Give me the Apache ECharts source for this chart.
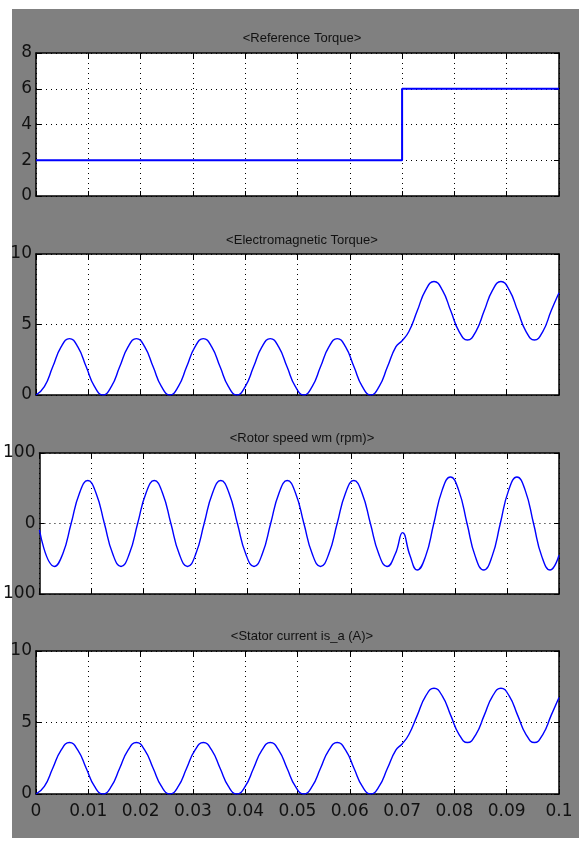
<!DOCTYPE html>
<html>
<head>
<meta charset="utf-8">
<script src="https://cdn.jsdelivr.net/npm/echarts@6/dist/echarts.min.js"></script>
<style>
html, body { margin: 0; padding: 0; background: #fff; }
#chart { width: 579px; height: 841px; }
</style>
</head>
<body>
<div id="chart"></div>
<script>
var titles = ["<Reference Torque>", "<Electromagnetic Torque>", "<Rotor speed wm (rpm)>", "<Stator current is_a (A)>"];
var yMins = [0, 0, -100, 0];
var yMaxs = [8, 10, 100, 10];
var ySteps = [2, 5, 100, 5];
var xMin = 0, xMax = 0.1, xStep = 0.01;

var refTorque = [[0, 2], [0.07, 2], [0.07, 6], [0.1, 6]];

var emTorque = [
  [0, 0], [0.0016, 0.59], [0.0032, 2], [0.0048, 3.41], [0.0064, 4], [0.008, 3.41], [0.0096, 2], [0.0112, 0.59],
  [0.0128, 0], [0.0144, 0.59], [0.016, 2], [0.0176, 3.41], [0.0192, 4], [0.0208, 3.41], [0.0224, 2], [0.024, 0.59],
  [0.0256, 0], [0.0272, 0.59], [0.0288, 2], [0.0304, 3.41], [0.032, 4], [0.0336, 3.41], [0.0352, 2], [0.0368, 0.59],
  [0.0384, 0], [0.04, 0.59], [0.0416, 2], [0.0432, 3.41], [0.0448, 4], [0.0464, 3.41], [0.048, 2], [0.0496, 0.59],
  [0.0512, 0], [0.0528, 0.59], [0.0544, 2], [0.056, 3.41], [0.0576, 4], [0.0592, 3.41], [0.0608, 2], [0.0624, 0.59],
  [0.064, 0], [0.0656, 0.59], [0.0672, 2], [0.0688, 3.41], [0.07, 3.85],
  [0.0713, 4.5], [0.0729, 5.97], [0.0745, 7.44], [0.0761, 8.05], [0.0777, 7.44], [0.0793, 5.97], [0.0809, 4.5],
  [0.0825, 3.9], [0.0841, 4.5], [0.0857, 5.97], [0.0873, 7.44], [0.0889, 8.05], [0.0905, 7.44], [0.0921, 5.97], [0.0937, 4.5],
  [0.0953, 3.9], [0.0969, 4.5], [0.0985, 5.97], [0.1, 7.25]
];

var rotorSpeed = [
  [0, -9], [0.0029, -61], [0.0045, -43], [0.0061, 0], [0.0077, 43], [0.0093, 61], [0.0109, 43], [0.0125, 0],
  [0.0141, -43], [0.0157, -61], [0.0173, -43], [0.0189, 0], [0.0205, 43], [0.0221, 61], [0.0237, 43], [0.0253, 0],
  [0.0269, -43], [0.0285, -61], [0.0301, -43], [0.0317, 0], [0.0333, 43], [0.0349, 61], [0.0365, 43], [0.0381, 0],
  [0.0397, -43], [0.0413, -61], [0.0429, -43], [0.0445, 0], [0.0461, 43], [0.0477, 61], [0.0493, 43], [0.0509, 0],
  [0.0525, -43], [0.0541, -61], [0.0557, -43], [0.0573, 0], [0.0589, 43], [0.0605, 61], [0.0621, 43], [0.0637, 0],
  [0.0653, -43], [0.0669, -61], [0.0685, -43], [0.0699, -13],
  [0.0713, -45], [0.0727, -66], [0.0743, -47], [0.0759, 0], [0.0775, 47], [0.0791, 66], [0.0807, 47], [0.0823, 0],
  [0.0839, -47], [0.0855, -66], [0.0871, -47], [0.0887, 0], [0.0903, 47], [0.0919, 66], [0.0935, 47], [0.0951, 0],
  [0.0967, -47], [0.0983, -66], [0.1, -45]
];

var statorCurrent = [
  [0, 0], [0.0016, 0.53], [0.0032, 1.8], [0.0048, 3.07], [0.0064, 3.6], [0.008, 3.07], [0.0096, 1.8], [0.0112, 0.53],
  [0.0128, 0], [0.0144, 0.53], [0.016, 1.8], [0.0176, 3.07], [0.0192, 3.6], [0.0208, 3.07], [0.0224, 1.8], [0.024, 0.53],
  [0.0256, 0], [0.0272, 0.53], [0.0288, 1.8], [0.0304, 3.07], [0.032, 3.6], [0.0336, 3.07], [0.0352, 1.8], [0.0368, 0.53],
  [0.0384, 0], [0.04, 0.53], [0.0416, 1.8], [0.0432, 3.07], [0.0448, 3.6], [0.0464, 3.07], [0.048, 1.8], [0.0496, 0.53],
  [0.0512, 0], [0.0528, 0.53], [0.0544, 1.8], [0.056, 3.07], [0.0576, 3.6], [0.0592, 3.07], [0.0608, 1.8], [0.0624, 0.53],
  [0.064, 0], [0.0656, 0.53], [0.0672, 1.8], [0.0688, 3.07], [0.07, 3.5],
  [0.0713, 4.16], [0.0729, 5.5], [0.0745, 6.84], [0.0761, 7.4], [0.0777, 6.84], [0.0793, 5.5], [0.0809, 4.16],
  [0.0825, 3.6], [0.0841, 4.16], [0.0857, 5.5], [0.0873, 6.84], [0.0889, 7.4], [0.0905, 6.84], [0.0921, 5.5], [0.0937, 4.16],
  [0.0953, 3.6], [0.0969, 4.16], [0.0985, 5.5], [0.1, 6.75]
];

var seriesData = [refTorque, emTorque, rotorSpeed, statorCurrent];

var font = "'DejaVu Sans', sans-serif";
var titleFont = "'Liberation Sans', sans-serif";
var gridTops = [53, 254, 453, 651];
var gridHeights = [143, 141, 141, 143];
var titleTops = [27, 229, 427, 625];

var grids = [], xAxes = [], yAxes = [], series = [], titleList = [];
var borderLine = { show: true, onZero: false, lineStyle: { color: "#000", width: 1.5 } };
var innerTick = { show: true, inside: true, length: 5, lineStyle: { color: "#000", width: 1 } };
var dotted = { show: true, lineStyle: { color: "#000", width: 1, type: [1, 4] } };

for (var i = 0; i < 4; i++) {
  grids.push({
    left: 36, top: gridTops[i], width: 523, height: gridHeights[i],
    show: true, backgroundColor: "#fff", borderWidth: 0
  });
  titleList.push({
    text: titles[i], left: 297, top: titleTops[i], textAlign: "center",
    textStyle: { fontFamily: titleFont, fontSize: 13, fontWeight: "normal", color: "#111" }
  });
  xAxes.push({
    type: "value", gridIndex: i, position: "bottom", min: xMin, max: xMax, interval: xStep,
    axisLine: borderLine, axisTick: innerTick, splitLine: dotted,
    axisLabel: {
      show: i === 3, margin: 9, color: "#111", fontFamily: font, fontSize: 17,
      formatter: function (v) { return String(Math.round(v * 100) / 100); }
    }
  });
  xAxes.push({
    type: "value", gridIndex: i, position: "top", min: xMin, max: xMax, interval: xStep,
    axisLine: borderLine, axisTick: innerTick, splitLine: { show: false }, axisLabel: { show: false }
  });
  yAxes.push({
    type: "value", gridIndex: i, position: "left", min: yMins[i], max: yMaxs[i], interval: ySteps[i],
    axisLine: borderLine, axisTick: innerTick, splitLine: dotted,
    axisLabel: {
      margin: 4, color: "#111", fontFamily: font, fontSize: 17,
      formatter: function (v) { return String(Math.abs(v)); }
    }
  });
  yAxes.push({
    type: "value", gridIndex: i, position: "right", min: yMins[i], max: yMaxs[i], interval: ySteps[i],
    axisLine: borderLine, axisTick: innerTick, splitLine: { show: false }, axisLabel: { show: false }
  });
  series.push({
    type: "line", xAxisIndex: 2 * i, yAxisIndex: 2 * i, data: seriesData[i],
    showSymbol: false, smooth: i === 0 ? false : 0.5,
    lineStyle: { color: "#0000ff", width: i === 0 ? 2 : 1.4 }
  });
}

var myChart = echarts.init(document.getElementById("chart"), null, { renderer: "canvas" });
myChart.setOption({
  animation: false,
  backgroundColor: "#fff",
  graphic: [{
    type: "rect", z: -10, silent: true,
    shape: { x: 12, y: 9, width: 567, height: 829 },
    style: { fill: "#808080" }
  }],
  title: titleList,
  grid: grids,
  xAxis: xAxes,
  yAxis: yAxes,
  series: series
});
</script>
</body>
</html>
